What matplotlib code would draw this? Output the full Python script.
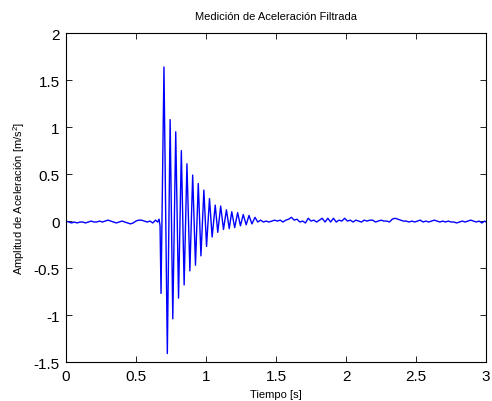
import numpy as np
import matplotlib
matplotlib.use("Agg")
import matplotlib.pyplot as plt

plt.rcParams['font.family'] = ['Liberation Sans', 'DejaVu Sans']
plt.rcParams['mathtext.fontset'] = 'custom'
plt.rcParams['mathtext.rm'] = 'Liberation Sans'

# Baseline noise before the impact (time [s], value)
pre_t = [0.00, 0.02, 0.04, 0.06, 0.08, 0.10, 0.12, 0.14, 0.16, 0.18, 0.20, 0.22,
         0.24, 0.26, 0.28, 0.30, 0.32, 0.34, 0.36, 0.38, 0.40, 0.42, 0.44, 0.46,
         0.48, 0.50, 0.52, 0.54, 0.56, 0.58, 0.60, 0.62, 0.64, 0.655, 0.665]
pre_v = [0.00, -0.01, -0.02, -0.01, -0.02, -0.01, -0.01, -0.02, -0.01, 0.00, -0.01, -0.01,
         0.00, -0.01, 0.00, 0.01, 0.00, -0.01, -0.02, -0.01, 0.00, -0.01, -0.02, -0.03,
         -0.02, 0.00, 0.01, 0.01, 0.00, -0.01, 0.00, -0.02, 0.01, -0.01, 0.02]

# Damped oscillation extrema
osc_t = [0.672, 0.679, 0.700, 0.724, 0.744, 0.763, 0.784, 0.804, 0.824, 0.844, 0.864,
         0.885, 0.905, 0.925, 0.945, 0.964, 0.985, 1.004, 1.025, 1.044, 1.066, 1.084,
         1.105, 1.125, 1.146, 1.166, 1.184, 1.205, 1.226, 1.246, 1.266, 1.287, 1.307,
         1.328, 1.350]
osc_v = [-0.05, -0.77, 1.64, -1.41, 1.08, -1.04, 0.95, -0.82, 0.75, -0.68, 0.61,
         -0.53, 0.49, -0.47, 0.40, -0.37, 0.33, -0.27, 0.24, -0.17, 0.17, -0.12,
         0.16, -0.09, 0.12, -0.08, 0.10, -0.07, 0.09, -0.05, 0.07, -0.04, 0.06,
         -0.03, 0.04]

# Baseline noise after the oscillation decays
post_t = [1.37, 1.39, 1.41, 1.43, 1.45, 1.47, 1.49, 1.51, 1.53, 1.55, 1.57, 1.59,
          1.61, 1.63, 1.65, 1.67, 1.69, 1.71, 1.73, 1.75, 1.77, 1.79, 1.81, 1.83,
          1.85, 1.87, 1.89, 1.91, 1.93, 1.95, 1.97, 1.99, 2.01, 2.03, 2.05, 2.07,
          2.09, 2.11, 2.13, 2.15, 2.17, 2.19, 2.21, 2.23, 2.25, 2.27, 2.29, 2.31,
          2.33, 2.35, 2.37, 2.39, 2.41, 2.43, 2.45, 2.47, 2.49, 2.51, 2.53, 2.55,
          2.57, 2.59, 2.61, 2.63, 2.65, 2.67, 2.69, 2.71, 2.73, 2.75, 2.77, 2.79,
          2.81, 2.83, 2.85, 2.87, 2.89, 2.91, 2.93, 2.95, 2.97, 2.99, 3.00]
post_v = [-0.01, 0.01, -0.01, 0.00, -0.01, 0.00, 0.01, 0.00, 0.01, -0.01, 0.01, 0.02,
          0.04, 0.01, 0.02, -0.01, 0.00, -0.02, 0.03, 0.00, 0.01, -0.01, 0.01, 0.03,
          -0.01, 0.03, -0.01, 0.03, -0.01, 0.01, 0.00, 0.03, 0.00, 0.01, -0.01, 0.01,
          0.00, -0.01, 0.01, 0.00, 0.01, 0.01, -0.01, 0.00, 0.01, 0.00, 0.00, -0.01,
          0.02, 0.03, 0.02, 0.01, 0.00, 0.00, -0.01, 0.00, -0.01, 0.00, 0.01, -0.01,
          0.00, -0.01, 0.00, 0.01, 0.00, -0.01, 0.00, -0.01, 0.00, -0.01, -0.01, -0.02,
          -0.01, 0.00, -0.01, 0.00, 0.01, 0.00, -0.01, 0.00, -0.02, 0.00, -0.01]

x_ticks = [0, 0.5, 1, 1.5, 2, 2.5, 3]
x_ticklabels = ['0', '0.5', '1', '1.5', '2', '2.5', '3']
y_ticks = [-1.5, -1, -0.5, 0, 0.5, 1, 1.5, 2]
y_ticklabels = ['-1.5', '-1', '-0.5', '0', '0.5', '1', '1.5', '2']

t = np.concatenate([pre_t, osc_t, post_t])
v = np.concatenate([pre_v, osc_v, post_v])

fig = plt.figure(figsize=(4.92, 4.02), dpi=100)
ax = fig.add_axes([0.134, 0.097, 0.854, 0.818])
ax.plot(t, v, color=(0, 0, 1), linewidth=1.0)
ax.set_xlim(0, 3)
ax.set_ylim(-1.5, 2)
ax.set_xticks(x_ticks)
ax.set_xticklabels(x_ticklabels)
ax.set_yticks(y_ticks)
ax.set_yticklabels(y_ticklabels)
ax.tick_params(direction='in', length=4, width=0.6, labelsize=11,
               top=True, right=True)
ax.tick_params(axis='x', pad=5)
ax.tick_params(axis='y', pad=4.5)
for s in ax.spines.values():
    s.set_linewidth(0.8)
ax.set_title('Medición de Aceleración Filtrada', fontsize=8, pad=10)
ax.set_xlabel('Tiempo [s]', fontsize=8, labelpad=4)
ax.set_ylabel('Amplitud de Aceleración [m/s$^2$]', fontsize=8, labelpad=5)

fig.savefig('out.png', dpi=100)
